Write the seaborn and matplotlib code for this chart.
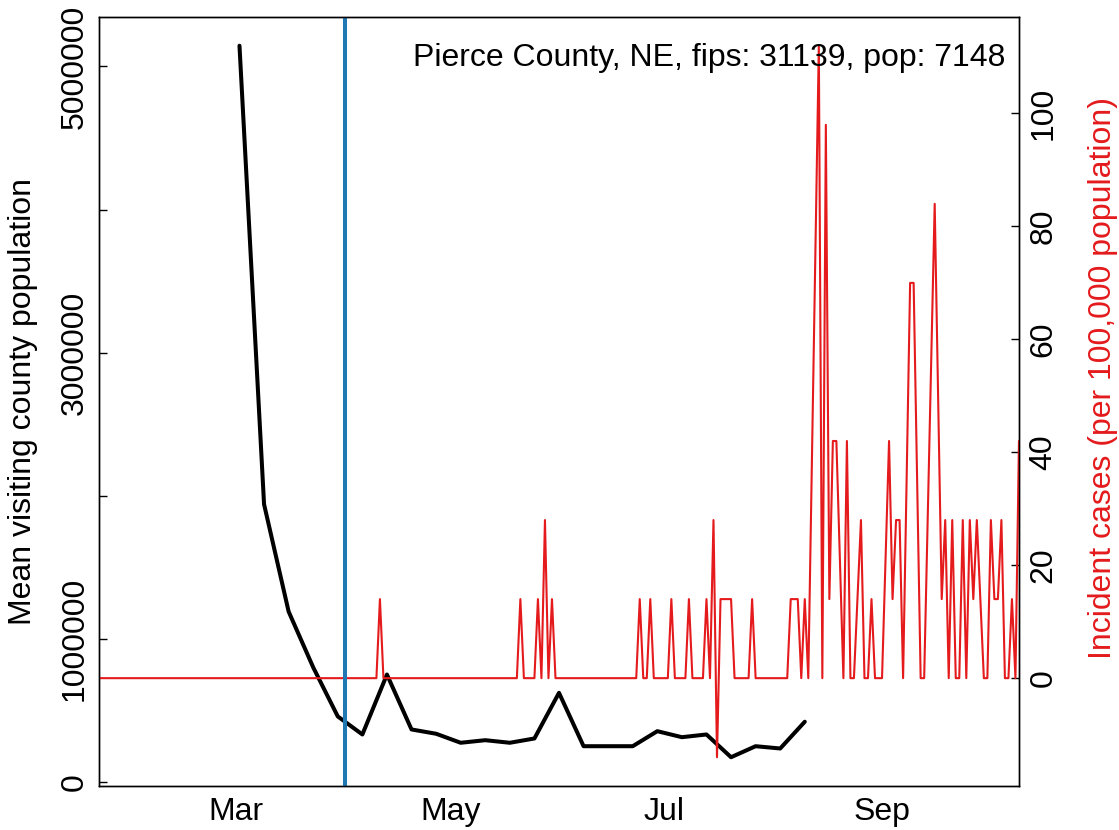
import numpy as np
import pandas as pd
import matplotlib
matplotlib.use("Agg")
import matplotlib.pyplot as plt
import matplotlib.dates as mdates
import seaborn as sns

# ---------------- data ----------------
base_date = "2020-03-01"

# weekly mean visiting county population (Mondays)
mob_dates = pd.date_range("2020-03-02", "2020-08-10", freq="7D")
mob_values = [5.145e6, 1.94e6, 1.19e6, 0.80e6, 0.457e6, 0.331e6, 0.75e6,
              0.366e6, 0.336e6, 0.273e6, 0.291e6, 0.273e6, 0.303e6, 0.622e6,
              0.249e6, 0.249e6, 0.249e6, 0.354e6, 0.312e6, 0.331e6, 0.172e6,
              0.249e6, 0.233e6, 0.420e6]

# incident cases per 100,000 (vertices of the series, day offset from 2020-03-01)
case_days = [-39, 40, 41, 42, 80, 81, 82, 85, 86, 87, 88, 89, 90, 91,
             114, 115, 116, 117, 118, 119, 123, 124, 125, 128, 129, 130,
             133, 134, 135, 136, 137, 138, 141, 142, 146, 147, 148, 157,
             158, 160, 161, 162, 163, 166, 167, 168, 169, 170, 171, 173,
             174, 175, 176, 178, 179, 180, 181, 182, 184, 186, 187, 188,
             189, 190, 192, 193, 195, 196, 199, 201, 202, 203, 204, 205,
             206, 207, 208, 209, 210, 211, 213, 214, 215, 216, 217, 218,
             219, 220, 221, 222, 223]
case_values = [0, 0, 14, 0, 0, 14, 0, 0, 14, 0, 28, 0, 14, 0,
               0, 14, 0, 0, 14, 0, 0, 14, 0, 0, 14, 0,
               0, 14, 0, 28, -14, 14, 14, 0, 0, 14, 0, 0,
               14, 14, 0, 14, 0, 112, 0, 98, 14, 42, 42, 0,
               42, 0, 0, 28, 0, 0, 14, 0, 0, 42, 14, 28,
               28, 0, 70, 70, 0, 0, 84, 14, 28, 0, 28, 0,
               0, 28, 0, 28, 14, 28, 0, 0, 28, 14, 14, 28,
               0, 0, 14, 0, 42]

intervention_date = "2020-04-01"
x_range = ["2020-01-22", "2020-10-10"]

left_ticks = [0, 1e6, 2e6, 3e6, 4e6, 5e6]
left_ticklabels = ["0", "1000000", "", "3000000", "", "5000000"]
right_ticks = [0, 20, 40, 60, 80, 100]
month_ticks = ["2020-03-01", "2020-05-01", "2020-07-01", "2020-09-01"]
month_labels = ["Mar", "May", "Jul", "Sep"]
annotation = "Pierce County, NE, fips: 31139, pop: 7148"

# ---------------- frames ----------------
mob_df = pd.DataFrame({"date": mob_dates, "pop": mob_values})
case_df = pd.DataFrame({
    "date": pd.Timestamp(base_date) + pd.to_timedelta(case_days, unit="D"),
    "cases": case_values,
})

# ---------------- style ----------------
sns.set_theme(style="white")
plt.rcParams["font.family"] = ["Liberation Sans", "DejaVu Sans"]
plt.rcParams["axes.edgecolor"] = "black"
plt.rcParams["axes.linewidth"] = 1.0

RED = "#E41A1C"
BLUE = "#1F77B4"
FS = 23

fig = plt.figure(figsize=(11.19, 8.30), dpi=100)
ax = fig.add_axes([0.0885, 0.0534, 0.8221, 0.9258])
ax.set_facecolor("white")

sns.lineplot(data=mob_df, x="date", y="pop", ax=ax, color="black",
             linewidth=2.9, estimator=None, sort=False)

ymin_d, ymax_d = min(mob_values), max(mob_values)
pad = 0.04 * (ymax_d - ymin_d)
ax.set_ylim(ymin_d - pad, ymax_d + pad)
ax.set_xlim(pd.Timestamp(x_range[0]), pd.Timestamp(x_range[1]))

ax.set_yticks(left_ticks)
ax.set_yticklabels(left_ticklabels, rotation=90, va="center", fontsize=FS)
ax.set_xticks([pd.Timestamp(d) for d in month_ticks])
ax.set_xticklabels(month_labels, fontsize=FS)
ax.tick_params(axis="both", direction="in", length=5.8, width=1.0,
               colors="black", pad=8)
ax.tick_params(axis="y", pad=7)
ax.set_xlabel("")
ax.set_ylabel("Mean visiting county population", fontsize=FS, color="black")
ax.yaxis.set_label_coords(-0.066, 0.5)

ax2 = ax.twinx()
sns.lineplot(data=case_df, x="date", y="cases", ax=ax2, color=RED,
             linewidth=1.5, estimator=None, sort=False)
cmin, cmax = min(case_values), max(case_values)
cpad = 0.04 * (cmax - cmin)
ax2.set_ylim(cmin - cpad, cmax + cpad)
ax2.set_xlim(pd.Timestamp(x_range[0]), pd.Timestamp(x_range[1]))
ax2.axvline(pd.Timestamp(intervention_date), color=BLUE, linewidth=2.9)
ax2.set_yticks(right_ticks)
ax2.set_yticklabels([str(t) for t in right_ticks], rotation=90, va="center",
                    fontsize=FS)
ax2.tick_params(axis="y", direction="in", length=5.8, width=1.0,
                colors="black", pad=7)
ax2.set_ylabel("Incident cases (per 100,000 population)", fontsize=FS,
               color=RED)
ax2.yaxis.set_label_coords(1.075, 0.53)
ax2.set_xlabel("")

for a in (ax, ax2):
    for s in a.spines.values():
        s.set_visible(True)
        s.set_color("black")
        s.set_linewidth(1.0)

ax2.text(0.985, 0.947, annotation, transform=ax2.transAxes, ha="right",
         va="center", fontsize=FS, color="black")

fig.savefig("out.png", dpi=100, facecolor="white")
